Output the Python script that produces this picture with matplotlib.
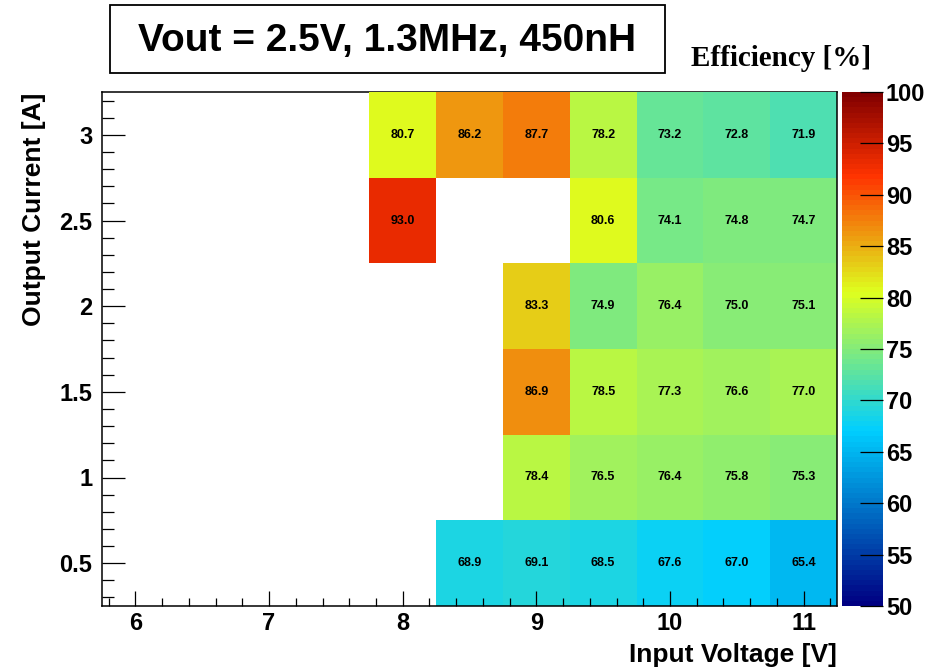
import numpy as np
import matplotlib
matplotlib.use('Agg')
import matplotlib.pyplot as plt
from matplotlib.colors import LinearSegmentedColormap, Normalize
from matplotlib.patches import Rectangle
from matplotlib.ticker import MultipleLocator

plt.rcParams['font.family'] = ['Liberation Sans', 'DejaVu Sans']

# data
voltages = [8.0, 8.5, 9.0, 9.5, 10.0, 10.5, 11.0]
currents = [0.5, 1.0, 1.5, 2.0, 2.5, 3.0]
eff_05 = [None, 68.9, 69.1, 68.5, 67.6, 67.0, 65.4]
eff_10 = [None, None, 78.4, 76.5, 76.4, 75.8, 75.3]
eff_15 = [None, None, 86.9, 78.5, 77.3, 76.6, 77.0]
eff_20 = [None, None, 83.3, 74.9, 76.4, 75.0, 75.1]
eff_25 = [93.0, None, None, 80.6, 74.1, 74.8, 74.7]
eff_30 = [80.7, 86.2, 87.7, 78.2, 73.2, 72.8, 71.9]

Z = np.array([eff_05, eff_10, eff_15, eff_20, eff_25, eff_30], dtype=float)
Z = np.ma.masked_invalid(Z)

# ROOT style gradient palette
stops = [0.00, 0.34, 0.61, 0.84, 1.00]
red = [0.00, 0.00, 0.87, 1.00, 0.51]
green = [0.00, 0.81, 1.00, 0.20, 0.00]
blue = [0.51, 1.00, 0.12, 0.00, 0.00]
cmap = LinearSegmentedColormap.from_list(
	'root', list(zip(stops, zip(red, green, blue))), N=100)
norm = Normalize(50, 100)

W, H = 927, 670
fig = plt.figure(figsize=(W / 100, H / 100), dpi=100)
ax = fig.add_axes([102 / W, 64 / H, 735 / W, 514 / H])
cax = fig.add_axes([842 / W, 64 / H, 41 / W, 514 / H])

dx, dy = 0.5, 0.5
xe = np.append(np.array(voltages) - dx / 2, voltages[-1] + dx / 2)
ye = np.append(np.array(currents) - dy / 2, currents[-1] + dy / 2)
mesh = ax.pcolormesh(xe, ye, Z, cmap=cmap, norm=norm, zorder=3)

for i, c in enumerate(currents):
	for j, v in enumerate(voltages):
		if not np.ma.is_masked(Z[i, j]):
			ax.text(v, c, '%.1f' % Z[i, j], ha='center', va='center',
					fontsize=9, fontweight='bold', zorder=6)

ax.set_xlim(5.75, 11.25)
ax.set_ylim(0.25, 3.25)
ax.xaxis.set_major_locator(MultipleLocator(1))
ax.xaxis.set_minor_locator(MultipleLocator(0.2))
ax.yaxis.set_major_locator(MultipleLocator(0.5))
ax.yaxis.set_minor_locator(MultipleLocator(0.1))
ax.yaxis.set_major_formatter(plt.FuncFormatter(lambda v, p: '%g' % v))
ax.tick_params(axis='both', which='both', direction='in', top=False, right=False,
			   width=0.9, labelsize=17)
ax.tick_params(axis='x', which='major', length=10.8, pad=4)
ax.tick_params(axis='x', which='minor', length=5.8)
ax.tick_params(axis='y', which='major', length=16.5, pad=7)
ax.tick_params(axis='y', which='minor', length=8.6)
for lab in ax.get_xticklabels() + ax.get_yticklabels():
	lab.set_fontweight('bold')
ax.xaxis.set_zorder(4)
ax.yaxis.set_zorder(4)
for s in ['left', 'bottom', 'right']:
	ax.spines[s].set_zorder(4)
for s in ax.spines.values():
	s.set_linewidth(1.1)

cb = fig.colorbar(mesh, cax=cax)
cb.outline.set_visible(False)
cb.set_ticks(np.arange(50, 101, 5))
cax.yaxis.set_ticks_position('right')
cax.tick_params(axis='y', which='major', direction='in', length=16.5, width=0.9,
				pad=2, labelsize=17)
cax.minorticks_off()
for lab in cax.get_yticklabels():
	lab.set_fontweight('bold')

# title box
fig.add_artist(Rectangle((110 / W, 1 - 73 / H), 555 / W, 68 / H, transform=fig.transFigure,
						 fill=False, edgecolor='black', linewidth=1.3))
fig.text(387 / W, 1 - 41 / H, 'Vout = 2.5V, 1.3MHz, 450nH', ha='center', va='center',
		 fontsize=28, fontweight='bold')
fig.text(781 / W, 1 - 59 / H, 'Efficiency [%]', ha='center', va='center',
		 fontsize=21, fontweight='bold', family=['Liberation Serif', 'DejaVu Serif'])

fig.text(837 / W, 1 - 655 / H, 'Input Voltage [V]', ha='right', va='center',
		 fontsize=19, fontweight='bold')
fig.text(34 / W, 1 - 93 / H, 'Output Current [A]', ha='center', va='top', rotation=90,
		 fontsize=19, fontweight='bold')

fig.savefig('out.png', dpi=100)
